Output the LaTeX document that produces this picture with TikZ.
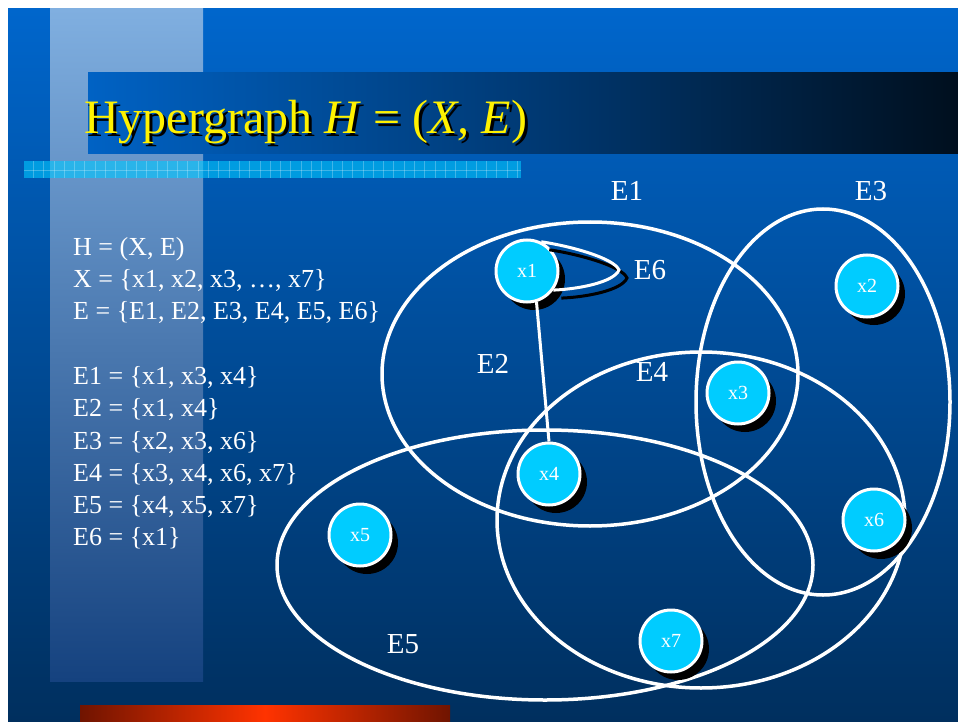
\documentclass[tikz,border=0pt]{standalone}
\usepackage{fontspec}
\setmainfont{Liberation Serif}
\usetikzlibrary{shadows,calc}
\definecolor{bgtop}{HTML}{0066CC}
\definecolor{bgbot}{HTML}{002F5E}
\definecolor{paneltop}{HTML}{80AFE0}
\definecolor{panelbot}{HTML}{15427F}
\definecolor{barl}{HTML}{0062C4}
\definecolor{barm}{HTML}{003A75}
\definecolor{barr}{HTML}{000F1E}
\definecolor{vcyan}{HTML}{00CCFF}
\definecolor{stripc}{HTML}{00C8FF}
\definecolor{redd}{HTML}{701400}
\definecolor{redl}{HTML}{FF3300}
\newcommand{\hgtitle}{Hypergraph \textit{H} = (\textit{X, E})}

\begin{document}
\begin{tikzpicture}[
  x=1pt, y=-1pt,
  vtx/.style={circle, draw=white, line width=3pt, fill=vcyan, minimum size=62pt, inner sep=0pt,
    text=white, font=\fontsize{20}{24}\selectfont,
    drop shadow={shadow xshift=7pt, shadow yshift=-8pt, opacity=1, fill=black}},
  hedge/.style={draw=white, line width=3.5pt},
  elbl/.style={text=white, font=\fontsize{29}{34}\selectfont},
  ttl/.style={anchor=base west, inner sep=0pt, text=yellow, font=\fontsize{48}{56}\selectfont},
  deftxt/.style={anchor=north west, inner sep=0pt, align=left, text=white, font=\fontsize{26}{32.3}\selectfont},
  stripln/.style={draw=white, line width=0.8pt, opacity=0.25},
]
% ---------- backdrop ----------
\fill[white] (0,0) rectangle (958,722);
\shade[top color=bgtop, bottom color=bgbot] (8,9) rectangle (958,722);
\shade[top color=paneltop, bottom color=panelbot] (50,9) rectangle (203,681);
\shade[left color=barl, right color=barr, middle color=barm] (88,73) rectangle (958,154);
\fill[stripc, opacity=0.6] (24,161) rectangle (521,178);
\foreach \gx in {33.3,43.6,...,518} \draw[stripln] (\gx,161) -- (\gx,178);
\draw[stripln] (24,170.5) -- (521,170.5);
\shade[left color=redd, right color=redd, middle color=redl] (80,705) rectangle (450,722);

% ---------- title ----------
\node[ttl] (ttl) at (84,134)
  {\rlap{\kern3pt\raisebox{-3pt}{\color{black}\hgtitle}}\hgtitle};

% ---------- definitions ----------
\node[deftxt] (defs) at (73,237) {H = (X, E)\\
  X = \{x1, x2, x3, …, x7\}\\
  E = \{E1, E2, E3, E4, E5, E6\}\\[32.3pt]
  E1 = \{x1, x3, x4\}\\
  E2 = \{x1, x4\}\\
  E3 = \{x2, x3, x6\}\\
  E4 = \{x3, x4, x6, x7\}\\
  E5 = \{x4, x5, x7\}\\
  E6 = \{x1\}};

% ---------- hyperedges ----------
\draw[hedge] (590,374) ellipse [x radius=208, y radius=152];
\draw[hedge] (823,402) ellipse [x radius=127, y radius=193];
\draw[hedge] (701,520) ellipse [x radius=204, y radius=168];
\draw[hedge] (545,565) ellipse [x radius=268, y radius=135];

% ---------- vertices ----------
\node[vtx] (x1) at (527,271) {x1};
\node[vtx] (x2) at (867,286) {x2};
\node[vtx] (x3) at (738,393) {x3};
\node[vtx] (x4) at (549,474) {x4};
\node[vtx] (x5) at (360,535) {x5};
\node[vtx] (x6) at (874,520) {x6};
\node[vtx] (x7) at (671,641) {x7};

% E2 and the loop E6
\draw[hedge, line width=3pt] (x1.-73) -- (x4.north);
\coordinate (e6tip) at (619,270);
\draw[hedge, line width=3pt, preaction={draw=black, line width=3pt, transform canvas={shift={(8pt,-8pt)}}}]
  (x1.64) .. controls (570,246) and (614,258) .. (e6tip)
  .. controls (614,282) and (580,289) .. (x1.-36);

% ---------- labels ----------
\node[elbl] (lE1) at (627,191) {E1};
\node[elbl] (lE3) at (871,191) {E3};
\node[elbl] (lE6) at (650,270) {E6};
\node[elbl] (lE2) at (493,364) {E2};
\node[elbl] (lE4) at (652,372) {E4};
\node[elbl] (lE5) at (403,644) {E5};
\end{tikzpicture}
\end{document}
